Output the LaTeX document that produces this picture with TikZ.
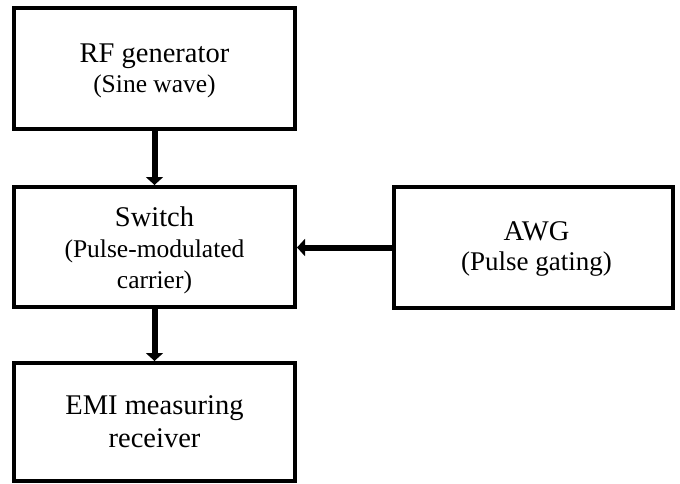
\documentclass[tikz,border=0pt]{standalone}
\usepackage{fontspec}
\setmainfont{Liberation Serif}
\usetikzlibrary{arrows.meta}
\newcommand{\subf}{\fontsize{25.5}{30}\selectfont}
\newcommand{\subg}{\fontsize{27}{30}\selectfont}
\begin{document}
\begin{tikzpicture}[x=1pt,y=-1pt,
  box/.style={draw=black, line width=4pt, minimum width=281pt, inner sep=0pt},
  txt/.style={inner sep=0pt, align=center, font=\fontsize{28.5}{31}\selectfont},
  conn/.style={line width=6pt, -{Triangle[width=17pt,length=8pt]}},
]
\useasboundingbox (0,0) rectangle (680,483);
% boxes
\node[box, minimum height=121pt] (rf) at (154.5,68.5) {};
\node[box, minimum height=120pt] (sw) at (154.5,247) {};
\node[box, minimum width=279pt, minimum height=121pt] (awg) at (533.5,247.5) {};
\node[box, minimum height=118pt] (emi) at (154.5,422) {};
% texts
\node[txt] (rft) at ([yshift=-2pt]rf.center) {RF generator\\[-1pt]{\subf (Sine wave)}};
\node[txt] (swt) at ([yshift=-3.5pt]sw.center) {Switch\\[0pt]{\subf (Pulse-modulated}\\[0pt]{\subf carrier)}};
\node[txt] (awgt) at ([xshift=3pt,yshift=-1.5pt]awg.center) {AWG\\[-1pt]{\subg (Pulse gating)}};
\node[txt] (emit) at (emi.center) {EMI measuring\\[2pt]receiver};
% connectors
\draw[conn] (rf.south) -- (sw.north);
\draw[conn] (awg.west) -- (sw.east |- awg.west);
\draw[conn] (sw.south) -- (emi.north);
\end{tikzpicture}
\end{document}
